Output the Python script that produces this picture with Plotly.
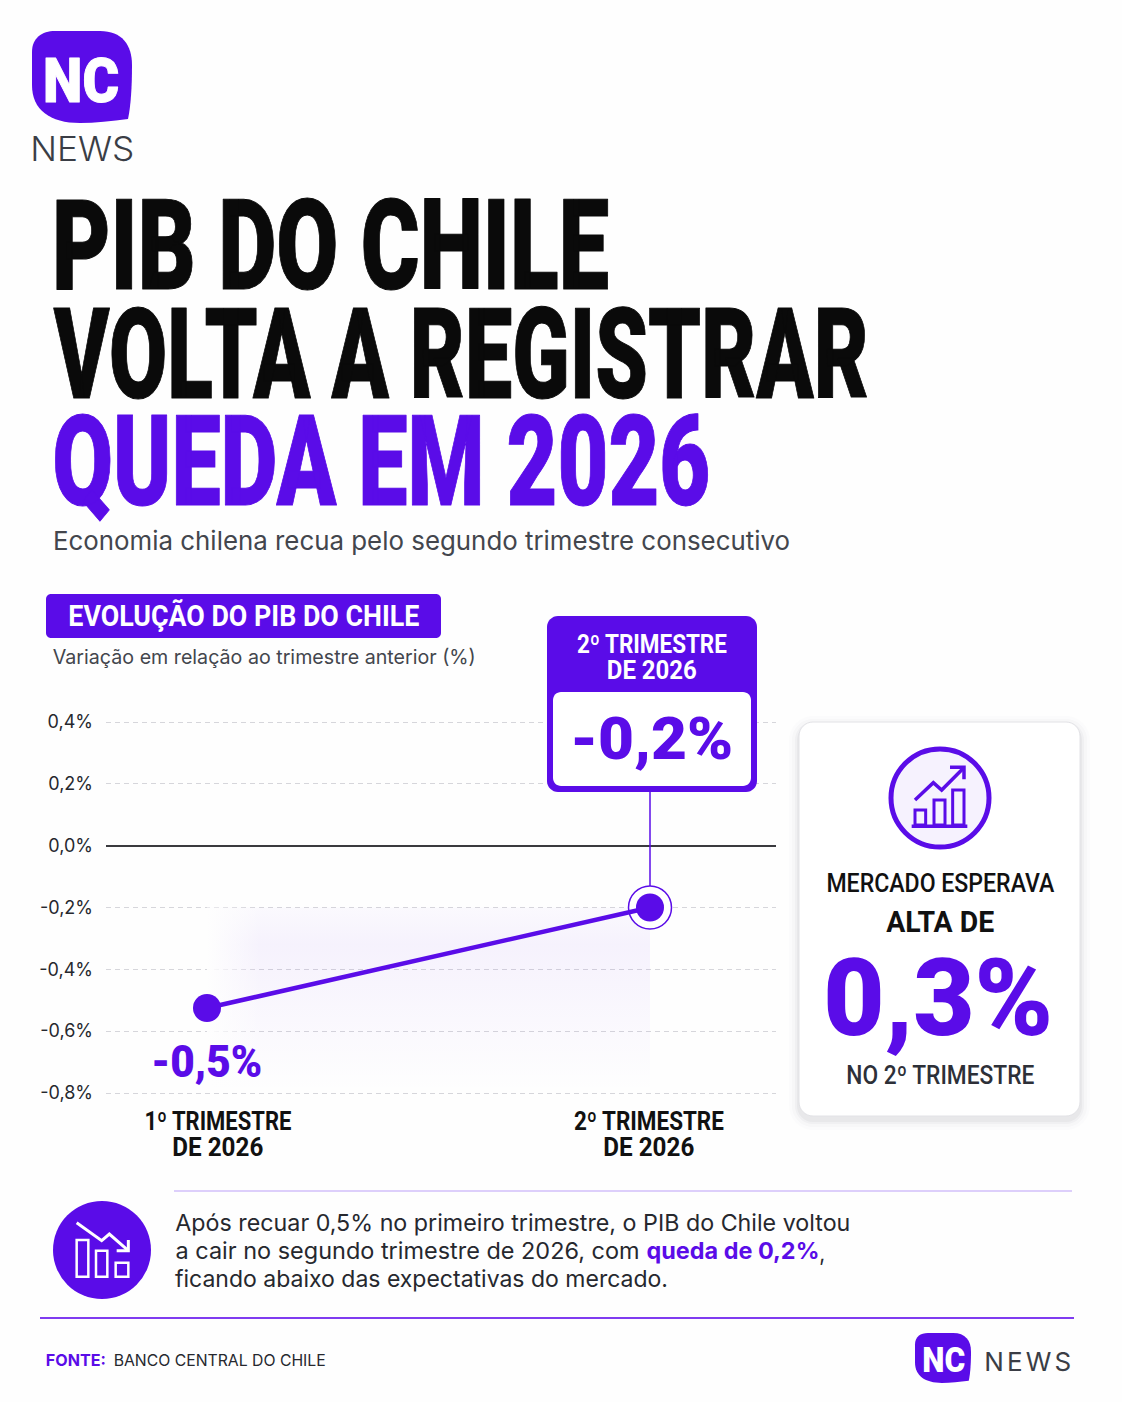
import json
import plotly.graph_objects as go

# ---------- data ----------
categories = ["1º TRIMESTRE DE 2026", "2º TRIMESTRE DE 2026"]
pib_values = [-0.525, -0.2]
y_ticks = [0.4, 0.2, 0.0, -0.2, -0.4, -0.6, -0.8]
y_labels = ["0,4%", "0,2%", "0,0%", "-0,2%", "-0,4%", "-0,6%", "-0,8%"]
value_labels = ["-0,5%", "-0,2%"]

W, H = 1122, 1402
PURPLE = "#5a0ce8"
DARK = "#3a3d45"
NARROW = "Roboto"
SANS = "Inter"
BG = "#fefefe"


def px(x):
    return x / W


def py(y):
    return 1 - y / H


def path(cmds):
    """cmds: list of (letter, x, y, ...) in page pixels -> SVG path in paper coords."""
    out = []
    for c in cmds:
        s = c[0]
        nums = c[1:]
        pts = []
        for i in range(0, len(nums), 2):
            pts.append(f"{px(nums[i]):.5f},{py(nums[i + 1]):.5f}")
        out.append(s + " ".join(pts))
    return " ".join(out)


def rr(x0, y0, x1, y1, r):
    k = r * 0.45
    return path([
        ("M", x0 + r, y0), ("L", x1 - r, y0),
        ("C", x1 - k, y0, x1, y0 + k, x1, y0 + r), ("L", x1, y1 - r),
        ("C", x1, y1 - k, x1 - k, y1, x1 - r, y1), ("L", x0 + r, y1),
        ("C", x0 + k, y1, x0, y1 - k, x0, y1 - r), ("L", x0, y0 + r),
        ("C", x0, y0 + k, x0 + k, y0, x0 + r, y0), ("Z",),
    ])


shapes = []


def shp(d, fill="rgba(0,0,0,0)", line=None, lw=0):
    shapes.append(dict(type="path", xref="paper", yref="paper", path=d, fillcolor=fill,
                       line=dict(color=line or "rgba(0,0,0,0)", width=lw), layer="above"))


def hline(x0, x1, y, color, lw):
    shapes.append(dict(type="line", xref="paper", yref="paper", x0=px(x0), x1=px(x1), y0=py(y), y1=py(y),
                       line=dict(color=color, width=lw), layer="above"))


def logo(x0, y0, x1, y1):
    sx = (x1 - x0) / 100
    sy = (y1 - y0) / 92
    f = lambda x, y: (x0 + (x - 32) * sx, y0 + (y - 31) * sy)
    d = path([
        ("M", *f(55, 31)), ("L", *f(100, 31)),
        ("C", *f(122, 31), *f(132, 45), *f(132, 65)),
        ("C", *f(132, 85), *f(131, 105), *f(128, 119)),
        ("C", *f(112, 121), *f(95, 123), *f(80, 123)),
        ("C", *f(50, 123), *f(32, 110), *f(32, 85)),
        ("L", *f(32, 52)),
        ("C", *f(32, 38), *f(42, 31), *f(55, 31)), ("Z",),
    ])
    shp(d, fill=PURPLE)


def circle(cx, cy, r, fill, line=None, lw=0):
    shapes.append(dict(type="circle", xref="paper", yref="paper", x0=px(cx - r), x1=px(cx + r),
                       y0=py(cy + r), y1=py(cy - r), fillcolor=fill,
                       line=dict(color=line or "rgba(0,0,0,0)", width=lw), layer="above"))


annos = []
fits = []


def txt(text, x0, x1, yc, size, color="#111111", family=SANS, weight=400, stroke=0, adjust="spacingAndGlyphs"):
    annos.append(dict(text=text, xref="paper", yref="paper", x=px((x0 + x1) / 2), y=py(yc),
                      xanchor="center", yanchor="middle", align="center", showarrow=False, borderpad=0,
                      font=dict(family=family, size=size, color=color, weight=weight)))
    fits.append([x1 - x0, adjust, stroke, color])


# logo top
logo(32, 31, 132, 123)
txt("NC", 43, 119, 80, 62, "#ffffff", NARROW, 900, 1)
txt("NEWS", 30, 134, 149, 34, DARK, SANS, 300)

# title
txt("PIB DO CHILE", 52, 609, 245, 127, "#0a0a0a", NARROW, 900, 1)
txt("VOLTA A REGISTRAR", 53, 868, 354, 127, "#0a0a0a", NARROW, 900, 1)
txt("QUEDA EM 2026", 52, 710, 461, 127, PURPLE, NARROW, 900, 1)
txt("Economia chilena recua pelo segundo trimestre consecutivo", 53, 790, 540, 26, "#43464d")

# chart header
shp(rr(46, 594, 441, 638, 5), fill=PURPLE)
txt("EVOLUÇÃO DO PIB DO CHILE", 68, 419, 616, 29, "#ffffff", NARROW, 700)
txt("Variação em relação ao trimestre anterior (%)", 53, 476, 657, 20, "#43464d")

# connector from callout to the second point
shapes.append(dict(type="line", xref="x", yref="paper", x0=categories[1], x1=categories[1],
                   y0=py(792), y1=py(886), line=dict(color=PURPLE, width=1.5), layer="above"))

# callout
shp(rr(547, 616, 757, 792, 11), fill=PURPLE)
shp(rr(553, 692, 751, 786, 8), fill="#ffffff")
txt("2º TRIMESTRE", 577, 727, 644, 26, "#ffffff", NARROW, 700)
txt("DE 2026", 607, 697, 670, 26, "#ffffff", NARROW, 700)
txt(value_labels[1], 570, 733, 738, 60, PURPLE, NARROW, 900)

# first value label
txt(value_labels[0], 151, 262, 1062, 44, PURPLE, NARROW, 900)

# x labels
txt("1º TRIMESTRE", 144, 291, 1121, 26, "#111111", NARROW, 700)
txt("DE 2026", 172, 263, 1147, 26, "#111111", NARROW, 700)
txt("2º TRIMESTRE", 574, 724, 1121, 26, "#111111", NARROW, 700)
txt("DE 2026", 603, 694, 1147, 26, "#111111", NARROW, 700)

# card
for off, a in [(10, 0.012), (7, 0.02), (4, 0.03), (2, 0.04)]:
    shp(rr(799 - off, 722 - off + 4, 1080 + off, 1116 + off + 4, 14 + off), fill=f"rgba(40,40,60,{a})")
shp(rr(799, 722, 1080, 1116, 14), fill="#ffffff", line="#e2e2e6", lw=1)
circle(940, 798, 49, "#f6f2fe", PURPLE, 5)
ix = lambda z: 780 + z / 3
iy = lambda z: 710 + z / 3
for a, b, c in [(405, 437, 300), (462, 495, 270), (518, 552, 240)]:
    shp(path([("M", ix(a), iy(345)), ("L", ix(a), iy(c)), ("L", ix(b), iy(c)), ("L", ix(b), iy(345)), ("Z",)]),
        line=PURPLE, lw=3)
hline(ix(395), ix(562), iy(349), PURPLE, 3.5)
shp(path([("M", ix(405), iy(270)), ("L", ix(460), iy(218)), ("L", ix(485), iy(240)), ("L", ix(550), iy(175))]),
    line=PURPLE, lw=3.5)
shp(path([("M", ix(510), iy(172)), ("L", ix(552), iy(172)), ("L", ix(552), iy(208))]), line=PURPLE, lw=3.5)
txt("MERCADO ESPERAVA", 826, 1054, 883, 25, "#111111", NARROW, 500)
txt("ALTA DE", 886, 994, 922, 29, "#111111", NARROW, 700)
txt("0,3%", 823, 1053, 998, 108, PURPLE, NARROW, 900)
txt("NO 2º TRIMESTRE", 846, 1034, 1075, 25, "#2d3038", NARROW, 500)

# bottom note
hline(174, 1072, 1191, "#ddcffb", 2)
circle(102, 1250, 49, PURPLE)
bx = lambda z: 20 + z / 3
by = lambda z: 1180 + z / 3
for a, b, c in [(170, 205, 180), (228, 262, 212), (287, 325, 248)]:
    shp(path([("M", bx(a), by(290)), ("L", bx(a), by(c)), ("L", bx(b), by(c)), ("L", bx(b), by(290)), ("Z",)]),
        line="#ffffff", lw=2.5)
shp(path([("M", bx(170), by(128)), ("L", bx(245), by(182)), ("L", bx(268), by(162)), ("L", bx(325), by(212))]),
    line="#ffffff", lw=3)
shp(path([("M", bx(290), by(212)), ("L", bx(325), by(212)), ("L", bx(325), by(180))]), line="#ffffff", lw=3)
txt("Após recuar 0,5% no primeiro trimestre, o PIB do Chile voltou", 175, 850, 1223, 23, "#26282e")
txt("a cair no segundo trimestre de 2026, com", 175, 639, 1251, 23, "#26282e")
txt("queda de 0,2%", 646, 819, 1251, 23, PURPLE, SANS, 700)
txt(",", 819, 825, 1253, 23, "#26282e")
txt("ficando abaixo das expectativas do mercado.", 175, 668, 1279, 23, "#26282e")

# footer
hline(40, 1074, 1318, "#7f3cf0", 2)
txt("FONTE:", 46, 106, 1360, 16, PURPLE, SANS, 700)
txt("BANCO CENTRAL DO CHILE", 113, 325, 1360, 16, "#26282e")
logo(915, 1333, 971, 1383)
txt("NC", 922, 965, 1360, 35, "#ffffff", NARROW, 900)
txt("NEWS", 984, 1071, 1361, 26, DARK, SANS, 400, 0, "spacing")

fig = go.Figure()

# shaded area beneath the line: baseline first, then top edge filled down to it
fig.add_trace(go.Scatter(x=categories, y=[min(y_ticks)] * 2, mode="lines", line=dict(width=0),
                         hoverinfo="skip", showlegend=False))
fig.add_trace(go.Scatter(x=categories, y=[max(pib_values)] * 2, mode="lines", line=dict(width=0),
                         fill="tonexty",
                         fillgradient=dict(type="vertical",
                                           colorscale=[[0, "rgba(90,12,232,0.0)"], [0.8, "rgba(90,12,232,0.05)"],
                                                       [1, "rgba(90,12,232,0.02)"]]),
                         hoverinfo="skip", showlegend=False))
# soft left edge of the shaded area
fig.add_trace(go.Scatter(x=categories, y=[min(y_ticks)] * 2, mode="lines", line=dict(width=0),
                         hoverinfo="skip", showlegend=False))
fig.add_trace(go.Scatter(x=categories, y=[max(pib_values)] * 2, mode="lines", line=dict(width=0),
                         fill="tonexty",
                         fillgradient=dict(type="horizontal",
                                           colorscale=[[0, "rgba(254,254,254,1)"], [0.12, "rgba(254,254,254,0)"],
                                                       [1, "rgba(254,254,254,0)"]]),
                         hoverinfo="skip", showlegend=False))
# halo ring on the latest point
fig.add_trace(go.Scatter(x=categories[1:], y=pib_values[1:], mode="markers",
                         marker=dict(size=43, color="#ffffff", line=dict(color=PURPLE, width=1.5)),
                         hoverinfo="skip", showlegend=False))
# series
fig.add_trace(go.Scatter(x=categories, y=pib_values, mode="lines+markers",
                         line=dict(color=PURPLE, width=4.5),
                         marker=dict(size=28, color=PURPLE), showlegend=False))

ppu = 371 / 1.2  # pixels per percentage point
pad_px = 5
pad = pad_px / ppu
fig.update_layout(
    width=W, height=H, margin=dict(l=0, r=0, t=0, b=0), autosize=False,
    paper_bgcolor=BG, plot_bgcolor="rgba(0,0,0,0)", showlegend=False,
    shapes=shapes, annotations=annos,
    xaxis=dict(domain=[106 / W, 776 / W], type="category", categoryorder="array", categoryarray=categories,
               range=[-101 / 443, 1 + 126 / 443], showgrid=False, zeroline=False, showticklabels=False,
               showline=False, ticks="", automargin=False),
    yaxis=dict(domain=[(H - 1093 - pad_px) / H, (H - 722 + pad_px) / H], range=[-0.8 - pad, 0.4 + pad],
               tickmode="array", tickvals=y_ticks, ticktext=y_labels, showgrid=True, gridcolor="#d6d6db",
               griddash="5px,4px", gridwidth=1, zeroline=True, zerolinecolor="#3a3a3e", zerolinewidth=1.5,
               showline=False, ticks="", ticklabelstandoff=12, automargin=False,
               tickfont=dict(family=SANS, size=18, color="#26282e")),
)

post = """
document.body.style.margin='0';
document.documentElement.style.overflow='hidden';
var fits=%s;
fits.forEach(function(f,i){
  var t=document.querySelector('g.annotation[data-index="'+i+'"] text');
  if(!t) return;
  t.setAttribute('textLength',f[0]);
  t.setAttribute('lengthAdjust',f[1]);
  if(f[2]>0){t.style.stroke=f[3];t.style.strokeWidth=f[2]+'px';t.style.strokeLinejoin='round';}
});
""" % json.dumps(fits)

fig.write_html("out.html", post_script=post, config=dict(displayModeBar=False))
